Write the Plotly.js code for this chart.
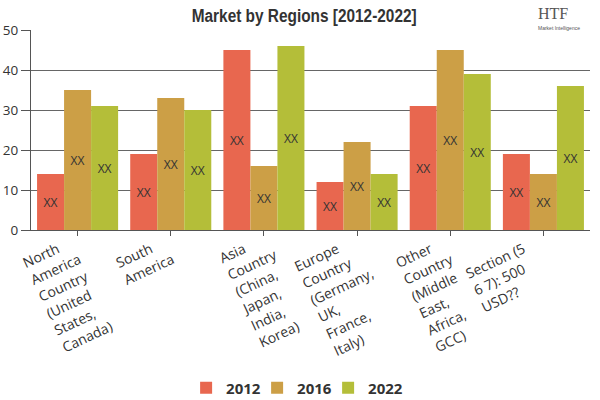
<!DOCTYPE html>
<html>
<head>
<meta charset="utf-8">
<script src="https://cdn.plot.ly/plotly-3.0.1.min.js"></script>
<style>html,body{margin:0;padding:0;background:#fff;}#chart{width:600px;height:400px;}</style>
</head>
<body>
<div id="chart"></div>
<script>
var categories = [
  "North<br>America<br>Country<br>(United<br>States,<br>Canada)",
  "South<br>America",
  "Asia<br>Country<br>(China,<br>Japan,<br>India,<br>Korea)",
  "Europe<br>Country<br>(Germany,<br>UK,<br>France,<br>Italy)",
  "Other<br>Country<br>(Middle<br>East,<br>Africa,<br>GCC)",
  "Section (5<br>6 7): 500<br>USD??"
];
var seriesNames = ["2012", "2016", "2022"];
var values2012 = [14, 19, 45, 12, 31, 19];
var values2016 = [35, 33, 16, 22, 45, 14];
var values2022 = [31, 30, 46, 14, 39, 36];
var barLabels = ["XX", "XX", "XX", "XX", "XX", "XX"];
var colors = ["#E8674F", "#CC9F46", "#B4BE39"];

var seriesValues = [values2012, values2016, values2022];
var traces = seriesValues.map(function (vals, i) {
  return {
    type: "bar",
    name: seriesNames[i],
    x: categories,
    y: vals,
    text: barLabels,
    textposition: "inside",
    insidetextanchor: "middle",
    textangle: 0,
    textfont: {family: "Open Sans, sans-serif", size: 12, color: "#333"},
    marker: {color: colors[i]},
    hoverinfo: "skip"
  };
});

var layout = {
  width: 600,
  height: 400,
  margin: {l: 31, r: 10, t: 30, b: 170, autoexpand: false},
  paper_bgcolor: "#fff",
  plot_bgcolor: "#fff",
  barmode: "group",
  bargap: 0.13,
  bargroupgap: 0,
  showlegend: true,
  title: {
    text: "<b>Market by Regions [2012-2022]</b>",
    x: 0.507,
    xanchor: "center",
    y: 0.962,
    yanchor: "middle",
    font: {family: "Liberation Sans, Arial, sans-serif", size: 19, color: "#333"}
  },
  xaxis: {
    type: "category",
    tickangle: -25,
    ticks: "outside",
    ticklen: 5,
    tickcolor: "#555",
    showline: true,
    linecolor: "#555",
    linewidth: 1,
    showgrid: false,
    ticklabelshift: -20,
    tickfont: {family: "Open Sans, sans-serif", size: 14, color: "#333"},
    automargin: false
  },
  yaxis: {
    range: [0, 50],
    dtick: 10,
    ticks: "outside",
    ticklen: 9,
    tickcolor: "#555",
    showgrid: true,
    gridcolor: "#666",
    gridwidth: 1,
    zeroline: false,
    showline: true,
    linecolor: "#555",
    linewidth: 1,
    tickfont: {family: "Open Sans, sans-serif", size: 13.5, color: "#333"},
    automargin: false
  },
  legend: {
    orientation: "h",
    x: 0.468,
    xanchor: "center",
    y: -0.79,
    yanchor: "middle",
    font: {family: "Open Sans, sans-serif", size: 15, color: "#333", weight: "bold"},
    itemwidth: 30,
    entrywidth: 26,
    entrywidthmode: "pixels",
    traceorder: "normal"
  },
  annotations: [
    {xref: "paper", yref: "paper", x: 0.934, y: 1.08, xanchor: "center", yanchor: "middle",
     text: "HTF", showarrow: false, font: {family: "Liberation Serif, serif", size: 16, color: "#555"}},
    {xref: "paper", yref: "paper", x: 0.945, y: 1.008, xanchor: "center", yanchor: "middle",
     text: "Market Intelligence", showarrow: false, font: {family: "Liberation Sans, sans-serif", size: 5, color: "#555"}}
  ]
};

Plotly.newPlot("chart", traces, layout, {displayModeBar: false, staticPlot: true}).then(function (gd) {
  // left-align lines of each x tick label, keeping first line's end where Plotly put it
  var texts = gd.querySelectorAll(".xtick text");
  texts.forEach(function (t) {
    var lines = t.querySelectorAll("tspan.line");
    if (!lines.length) return;
    var w0 = lines[0].getComputedTextLength();
    t.setAttribute("text-anchor", "start");
    t.style.textAnchor = "start";
    var tx = parseFloat(t.getAttribute("x") || "0");
    t.setAttribute("x", tx - w0);
    lines.forEach(function (ln, k) {
      var lx = parseFloat(ln.getAttribute("x") || tx);
      ln.setAttribute("x", lx - w0);
      ln.setAttribute("dy", (k * 1.33) + "em");
    });
  });
  // let the legend's last label show fully
  gd.querySelectorAll(".legend .scrollbox").forEach(function (s) { s.removeAttribute("clip-path"); });
  gd.querySelectorAll(".legend").forEach(function (s) { s.removeAttribute("clip-path"); });
  // condense the title horizontally
  var title = gd.querySelector(".gtitle");
  if (title) {
    var bb = title.getBBox();
    var sx = 225 / bb.width;
    var cx = bb.x + bb.width / 2;
    title.setAttribute("transform", "translate(" + cx + ",0) scale(" + sx + ",1) translate(" + (-cx) + ",0)");
  }
});
</script>
</body>
</html>
